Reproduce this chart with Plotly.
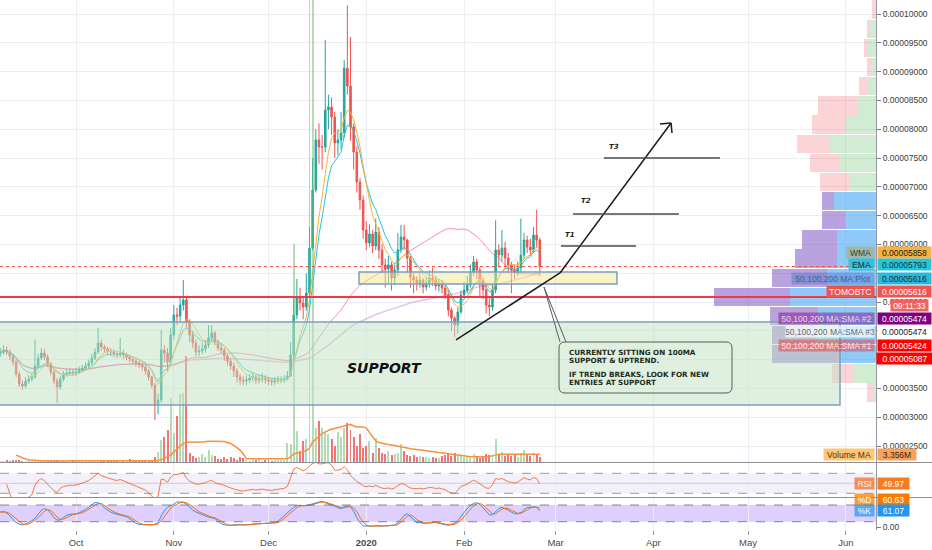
import numpy as np
import pandas as pd
import plotly.graph_objects as go

SAT = 1e-8
START = "2019-09-07"

CLOSE = [
4132,4167,4132,4063,3958,3750,3577,3542,3629,3663,
3698,3889,4028,4115,4045,3924,3785,3629,3525,3663,
3733,3768,3785,3768,3785,3820,3854,3889,3941,4028,
4132,4289,4219,4184,4150,4132,4097,4080,4115,4080,
4045,4011,3976,3941,3906,3872,3802,3698,3560,3212,
3299,4167,4115,3958,4427,4775,4757,4948,5035,4653,
4427,4289,4132,4150,4184,4254,4375,4462,4306,4202,
4167,4063,3976,3889,3802,3698,3646,3629,3646,3681,
3698,3646,3663,3681,3646,3629,3612,3629,3646,3646,
3663,3716,4080,4775,5070,4983,4913,5156,5938,6945,
7813,7691,7691,8333,8386,8212,7761,7813,7934,9060,
8750,8040,7604,7083,6771,6250,6025,6181,5972,6216,
5903,5643,5573,5643,5417,5556,5903,6129,6077,5764,
5434,5382,5330,5382,5261,5330,5417,5382,5278,5313,
5243,5122,4861,4722,4601,4827,5122,5209,5296,5521,
5695,5556,5382,5209,4948,4913,5209,5903,5816,5938,
5764,5643,5556,5504,5591,5816,6077,5955,5903,6163,
6077,5616]

OPEN = [
4100,4132,4167,4132,4063,3958,3750,3577,3542,3629,
3663,3698,3889,4028,4115,4045,3924,3785,3629,3525,
3663,3733,3768,3785,3768,3785,3820,3854,3889,3941,
4028,4132,4289,4219,4184,4150,4132,4097,4080,4115,
4080,4045,4011,3976,3941,3906,3872,3802,3698,3560,
3212,3299,4167,4115,3958,4427,4775,4757,4948,5035,
4653,4427,4289,4132,4150,4184,4254,4375,4462,4306,
4202,4167,4063,3976,3889,3802,3698,3646,3629,3646,
3681,3698,3646,3663,3681,3646,3629,3612,3629,3646,
3646,3663,3716,4080,4775,5070,4983,4913,5156,5938,
6945,7813,7691,7691,8333,8386,8212,7761,7813,7934,
9060,8750,8040,7604,7083,6771,6250,6025,6181,5972,
6216,5903,5643,5573,5643,5417,5556,5903,6129,6077,
5764,5434,5382,5330,5382,5261,5330,5417,5382,5278,
5313,5243,5122,4861,4722,4601,4827,5122,5209,5296,
5521,5695,5556,5382,5209,4948,4913,5209,5903,5816,
5938,5764,5643,5556,5504,5591,5816,6077,5955,5903,
6163,6077]

HIGH = [
4200,4250,4230,4170,4100,3990,3800,3640,3700,3720,
3760,4350,4100,4200,4180,4090,3960,3820,3680,3720,
3800,3830,3850,3840,3850,3880,3910,3950,4000,4100,
4200,4550,4350,4260,4230,4200,4180,4150,4380,4170,
4120,4090,4060,4020,3990,3950,3910,3840,3720,3600,
3400,4514,4250,4200,4550,4950,4900,5100,5382,5100,
4700,4500,4350,4250,4300,4350,4600,4600,4500,4350,
4280,4200,4100,4020,3950,3850,3760,3720,3720,3750,
3780,3740,3740,3760,3730,3700,3680,3700,3720,3710,
3730,3800,4300,5100,5400,5250,5100,5500,6300,7500,
8000,8100,7900,9550,8600,8550,8300,8000,8300,9200,
10150,9600,8100,7700,7150,6850,6400,6350,6250,6450,
6300,6000,5750,5800,5700,5650,6200,6340,6340,6100,
5800,5500,5450,5500,5420,5450,5550,5600,5450,5400,
5380,5300,5200,4900,4750,4900,5200,5350,5450,5650,
5800,5750,5600,5420,5300,5100,5300,6420,6000,6250,
6050,5850,5700,5650,5700,6450,6200,6150,6100,6300,
6600,6120]

LOW = [
4050,4090,4080,4000,3900,3700,3520,3480,3500,3580,
3620,3670,3850,3990,3990,3870,3730,3580,3250,3480,
3620,3700,3720,3710,3720,3750,3790,3820,3850,3900,
3990,4100,4150,4120,4090,4060,4040,4020,4040,4010,
3990,3950,3920,3880,3850,3810,3740,3640,3500,2950,
3050,3250,3950,3800,3900,4350,4600,4650,4850,4550,
4300,4200,4050,4060,4100,4120,4200,4300,4250,4150,
4100,3980,3900,3820,3700,3600,3560,3550,3560,3600,
3620,3580,3590,3610,3580,3560,3550,3560,3580,3590,
3600,3640,3700,4000,4700,4850,4700,4850,5100,5900,
6900,7400,7300,7600,8000,7900,7500,7550,7650,7850,
8600,7800,7300,6900,6600,6100,5900,5950,5850,5900,
5750,5500,5250,5300,5200,5300,5450,5850,5900,5500,
5250,5150,5200,5250,5150,5200,5250,5280,5200,5180,
5150,5050,4750,4500,4390,4450,4800,5080,5150,5250,
5450,5400,5100,5050,4800,4750,4850,5150,5600,5700,
5600,5500,5150,5400,5450,5500,5750,5850,5800,5850,
5950,5450]

VOLUME_M = [
0.6,0.5,0.7,0.5,0.8,1.0,0.9,0.6,0.5,0.7,
0.6,0.5,0.4,0.6,0.5,0.5,0.4,0.6,0.7,0.5,
0.4,0.5,0.6,0.4,0.5,0.4,0.5,0.6,0.5,0.4,
0.5,0.7,0.5,0.4,0.5,0.6,0.4,0.5,0.6,0.5,
0.4,1.3,0.5,0.4,0.6,0.5,0.7,0.8,1.0,2.2,
4.4,9.6,10.9,14.0,28.0,12.6,20.0,29.5,30.0,46.0,
4.0,2.5,1.8,2.2,3.5,2.0,5.2,3.0,2.4,1.5,
1.3,2.0,1.2,2.2,1.8,1.0,2.0,1.6,1.0,0.6,
0.8,0.7,1.2,0.6,0.9,0.7,0.6,1.0,0.8,0.7,
0.9,8.3,8.0,95.0,13.5,5.0,9.0,10.0,210.0,210.0,
15.0,18.0,15.0,13.0,12.0,10.0,7.0,13.0,11.0,15.0,
17.0,14.0,11.0,7.0,12.0,6.0,7.0,9.0,4.0,10.5,
6.0,4.0,3.5,5.0,3.0,3.5,4.0,7.8,5.0,3.0,
2.5,3.0,2.2,2.6,2.0,2.3,1.8,2.1,1.6,1.9,
2.5,3.0,3.5,2.8,3.9,3.2,2.6,2.2,2.4,2.8,
3.3,2.2,1.8,2.6,3.5,2.9,2.4,10.0,3.1,4.5,
2.6,3.3,2.4,2.9,2.2,3.8,5.4,3.0,2.6,4.2,
3.6,2.0]

VOLUME_MA_M = [
None,None,None,None,None,3.0,2.4,1.7,1.3,1.0,
0.8,0.6,0.5,0.5,0.5,0.45,0.45,0.45,0.45,0.45,
0.45,0.45,0.5,0.5,0.5,0.5,0.5,0.5,0.5,0.5,
0.5,0.5,0.5,0.5,0.5,0.5,0.5,0.5,0.5,0.5,
0.5,0.55,0.55,0.55,0.55,0.55,0.55,0.55,0.6,0.6,
0.65,1.1,1.5,2.4,3.0,4.4,5.7,7.0,8.1,8.6,
8.7,8.7,8.7,8.7,8.7,9.0,9.0,9.0,9.0,9.0,
9.0,8.9,8.5,8.1,7.2,6.1,5.2,3.5,1.5,1.45,
1.45,1.45,1.45,1.45,1.45,1.45,1.45,1.45,1.45,1.45,
1.45,1.45,2.2,3.5,3.9,4.05,4.4,5.0,6.1,8.7,
10.0,11.3,12.4,13.1,13.7,14.4,14.6,15.0,15.5,15.9,
16.3,16.4,15.7,15.3,15.3,15.3,14.8,13.1,10.9,9.2,
8.5,8.1,7.8,7.6,7.4,7.2,7.0,6.8,6.5,6.1,
5.8,5.7,5.5,5.2,5.1,4.9,4.8,4.6,4.4,4.1,
3.9,3.7,3.5,3.3,3.1,2.8,2.6,2.6,2.5,2.4,
2.3,2.2,2.2,2.2,2.2,2.4,2.6,3.0,3.36,3.36,
3.36,3.36,3.36,3.36,3.36,3.36,3.36,3.36,3.36,3.36,
3.36,3.356]

# visible-range volume profile (rows, in satoshi; widths in px of the profile scale)
PROFILE_PRICE = [10076,9744,9411,9079,8747,8414,8082,7749,7417,7084,
                 6752,6419,6087,5755,5422,5090,4757,4425,4092,3760,3427]
PROFILE_UP = [1,6,8,5,9,19,31,46,36,26,42,31,39,39,49,86,58,60,36,23,3]
PROFILE_DOWN = [3,3,4,4,8,39,33,33,30,30,12,23,35,42,55,76,48,44,68,21,6]
PROFILE_VALUE_AREA = [0,0,0,0,0,0,0,0,0,0,1,1,1,1,1,1,1,1,1,0,0]

PRICE_TICKS = [2500,3000,3500,4000,4500,5000,5500,6000,6500,7000,7500,8000,8500,9000,9500,10000]
HIDDEN_TICKS = [4000, 4500, 5500]   # fully covered by the price-scale tags in the reference
MONTH_TICKS = ["2019-10-01","2019-11-01","2019-12-01","2020-01-01","2020-02-01",
               "2020-03-01","2020-04-01","2020-05-01","2020-06-01"]
MONTH_LABELS = ["Oct","Nov","Dec","<b>2020</b>","Feb","Mar","Apr","May","Jun"]

SUPPORT_ZONE = (3212, 4653)
ENTRY_ZONE = (5313, 5521)
KEY_LEVEL = 5087
LAST_PRICE = 5616
TARGETS = [("T1", 5972, "2020-03-02 16:48", "2020-03-26 12:00", "2020-03-05 14:00", 6163),
           ("T2", 6528, "2020-03-06 12:00", "2020-04-09 02:00", "2020-03-10 14:00", 6753),
           ("T3", 7500, "2020-03-16 07:00", "2020-04-22 02:00", "2020-03-19 12:00", 7691)]

n = len(CLOSE)
assert all(len(a) == n for a in (OPEN, HIGH, LOW, VOLUME_M, VOLUME_MA_M))
dates = pd.date_range(START, periods=n, freq="D")

c = pd.Series(CLOSE, dtype=float)
hi = pd.Series(HIGH, dtype=float)
lo = pd.Series(LOW, dtype=float)
sma50 = c.rolling(50, min_periods=1).mean()
sma100 = c.rolling(100, min_periods=1).mean()
ema = c.ewm(span=9, adjust=False).mean()
wts = np.arange(1, 10)
wma = c.rolling(9).apply(lambda a: np.dot(a, wts) / wts.sum(), raw=True)
d = c.diff()
ag = d.clip(lower=0).ewm(alpha=1/14, adjust=True).mean()
al = (-d).clip(lower=0).ewm(alpha=1/14, adjust=True).mean()
rsi = 100 - 100 / (1 + ag / al)
rsi.iloc[:2] = np.nan
hh = hi.rolling(14, min_periods=1).max()
ll = lo.rolling(14, min_periods=1).min()
raw = 100 * (c - ll) / (hh - ll)
stk = raw.rolling(3, min_periods=1).mean()
std = stk.rolling(3, min_periods=1).mean()

W, H = 932, 550
PW, PH = 876, 530
def px(x): return x / PW
def py(y): return (PH - y) / PH

FONT = "Liberation Sans"
fig = go.Figure()

up = [cl >= op for cl, op in zip(CLOSE, OPEN)]
fig.add_trace(go.Bar(x=dates, y=VOLUME_M, xaxis="x", yaxis="y2",
                     marker=dict(color=["rgba(102,187,106,0.5)" if u else "rgba(239,83,80,0.8)" for u in up],
                                 line=dict(width=0)),
                     width=0.62 * 86400000))
fig.add_trace(go.Scatter(x=dates, y=VOLUME_MA_M, xaxis="x", yaxis="y2", mode="lines",
                         line=dict(color="#f7913d", width=1.5)))
fig.add_trace(go.Candlestick(x=dates, open=np.array(OPEN) * SAT, high=np.array(HIGH) * SAT,
                             low=np.array(LOW) * SAT, close=c.values * SAT,
                             increasing=dict(line=dict(color="#26a69a", width=1), fillcolor="#26a69a"),
                             decreasing=dict(line=dict(color="#ef5350", width=1), fillcolor="#ef5350"),
                             whiskerwidth=0, xaxis="x", yaxis="y"))
for s, col, wd in [(sma100, "rgba(156,39,176,0.28)", 1.5), (sma50, "rgba(242,54,69,0.55)", 1),
                   (ema, "#26c6da", 1), (wma, "#f5b335", 1)]:
    fig.add_trace(go.Scatter(x=dates, y=s * SAT, mode="lines", line=dict(color=col, width=wd),
                             xaxis="x", yaxis="y"))

up_col = ["rgba(33,150,243,0.5)" if v else "rgba(76,175,80,0.25)" for v in PROFILE_VALUE_AREA]
dn_col = ["rgba(126,87,194,0.55)" if v else "rgba(242,54,69,0.22)" for v in PROFILE_VALUE_AREA]
prof_y = np.array(PROFILE_PRICE) * SAT
fig.add_trace(go.Bar(y=prof_y, x=PROFILE_UP, orientation="h", xaxis="x4", yaxis="y",
                     marker=dict(color=up_col, line=dict(width=0)), width=318 * SAT))
fig.add_trace(go.Bar(y=prof_y, x=PROFILE_DOWN, base=PROFILE_UP, orientation="h", xaxis="x4", yaxis="y",
                     marker=dict(color=dn_col, line=dict(width=0)), width=318 * SAT))

fig.add_trace(go.Scatter(x=dates, y=rsi, mode="lines", line=dict(color="#f0794a", width=1),
                         xaxis="x2", yaxis="y3"))
fig.add_trace(go.Scatter(x=dates, y=stk, mode="lines", line=dict(color="#2196f3", width=1),
                         xaxis="x3", yaxis="y4"))
fig.add_trace(go.Scatter(x=dates, y=std, mode="lines", line=dict(color="#ff6d00", width=1),
                         xaxis="x3", yaxis="y4"))

XR = ["2019-09-06 21:36", "2020-06-10 13:26"]
grid = "#eceef3"
xcommon = dict(type="date", range=XR, tickvals=MONTH_TICKS, ticktext=MONTH_LABELS,
               showgrid=True, gridcolor=grid, zeroline=False, showline=False)
ycommon = dict(side="right", zeroline=False, showline=True, linecolor="#9598a1", linewidth=1,
               tickfont=dict(family=FONT, size=8.5, color="#3b3b3b"))
tick_text = ["" if t in HIDDEN_TICKS else f"{t * SAT:.8f}" for t in PRICE_TICKS]
fig.update_layout(
    width=W, height=H, margin=dict(l=0, r=W - PW, t=0, b=H - PH, autoexpand=False),
    paper_bgcolor="white", plot_bgcolor="white", showlegend=False, bargap=0, barmode="overlay",
    xaxis=dict(xcommon, domain=[0, 1], anchor="y", showticklabels=False, rangeslider=dict(visible=False)),
    xaxis2=dict(xcommon, domain=[0, 1], anchor="y3", matches="x", showticklabels=False),
    xaxis3=dict(xcommon, domain=[0, 1], anchor="y4", matches="x", showticklabels=True,
                ticks="outside", ticklen=4, tickcolor="#9598a1",
                tickfont=dict(family=FONT, size=9.5, color="#4a4a4a")),
    xaxis4=dict(overlaying="x", anchor="y", range=[PW, 0], visible=False),
    yaxis=dict(ycommon, domain=[py(462), 1], range=[2223 * SAT, 10243 * SAT],
               tickvals=[t * SAT for t in PRICE_TICKS], ticktext=tick_text,
               ticks="outside", ticklen=4, tickcolor="#787b86", showgrid=True, gridcolor=grid),
    yaxis2=dict(overlaying="y", range=[0, 201.3], visible=False),
    yaxis3=dict(ycommon, domain=[py(497), py(463)], range=[22.6, 90.6], showticklabels=False,
                showgrid=False),
    yaxis4=dict(ycommon, domain=[0, py(498)], range=[-9.8, 105.2], tickvals=[0], ticktext=["0.00"],
                ticks="outside", ticklen=4, tickcolor="#787b86", showgrid=False),
)

shapes = []
# indicator bands
shapes.append(dict(type="rect", xref="x2 domain", yref="y3", x0=0, x1=1, y0=30, y1=70,
                   fillcolor="rgba(126,87,194,0.09)", line=dict(width=0), layer="below"))
for lv in (30, 70):
    shapes.append(dict(type="line", xref="x2 domain", yref="y3", x0=0, x1=1, y0=lv, y1=lv,
                       line=dict(color="rgba(120,123,134,0.75)", width=1, dash="dash")))
shapes.append(dict(type="line", xref="x2 domain", yref="y3", x0=0, x1=1, y0=50, y1=50,
                   line=dict(color="rgba(120,123,134,0.3)", width=1)))
shapes.append(dict(type="rect", xref="x3 domain", yref="y4", x0=0, x1=1, y0=20, y1=80,
                   fillcolor="rgba(156,106,245,0.32)", line=dict(width=0), layer="below"))
for lv in (20, 80):
    shapes.append(dict(type="line", xref="x3 domain", yref="y4", x0=0, x1=1, y0=lv, y1=lv,
                       line=dict(color="rgba(110,100,130,0.8)", width=1, dash="dash")))
# pane separators
for yy in (462.5, 497.5):
    shapes.append(dict(type="line", xref="paper", yref="paper", x0=0, x1=W / PW, y0=py(yy), y1=py(yy),
                       line=dict(color="#8a8d96", width=1)))
# zones
shapes.append(dict(type="rect", xref="x", yref="y", x0="2019-09-01", x1="2020-05-30 03:36",
                   y0=SUPPORT_ZONE[0] * SAT, y1=SUPPORT_ZONE[1] * SAT,
                   fillcolor="rgba(191,225,193,0.5)", line=dict(color="#7f9dc0", width=1.5), layer="above"))
shapes.append(dict(type="rect", xref="x", yref="y", x0="2019-12-29 16:48", x1="2020-03-20 11:00",
                   y0=ENTRY_ZONE[0] * SAT, y1=ENTRY_ZONE[1] * SAT,
                   fillcolor="rgba(247,231,145,0.5)", line=dict(color="#7f9dc0", width=1.5), layer="above"))
shapes.append(dict(type="line", xref="paper", yref="y", x0=0, x1=1, y0=KEY_LEVEL * SAT, y1=KEY_LEVEL * SAT,
                   line=dict(color="#f23645", width=2), layer="above"))
shapes.append(dict(type="line", xref="paper", yref="y", x0=0, x1=1, y0=LAST_PRICE * SAT, y1=LAST_PRICE * SAT,
                   line=dict(color="#ef5350", width=1, dash="dot"), layer="above"))
# trend + projection
blk = dict(color="#1a1a1a", width=1.5)
shapes.append(dict(type="line", xref="x", yref="y", x0="2020-01-29 10:30", y0=4341 * SAT,
                   x1="2020-03-02 09:36", y1=5504 * SAT, line=blk))
shapes.append(dict(type="line", xref="x", yref="y", x0="2020-03-02 09:36", y0=5504 * SAT,
                   x1="2020-04-06 14:24", y1=8108 * SAT, line=blk))
shapes.append(dict(type="line", xref="x", yref="y", x0="2020-04-06 14:24", y0=8108 * SAT,
                   x1="2020-04-03 02:24", y1=8090 * SAT, line=blk))
shapes.append(dict(type="line", xref="x", yref="y", x0="2020-04-06 14:24", y0=8108 * SAT,
                   x1="2020-04-06 21:36", y1=7934 * SAT, line=blk))
for name, lvl, xa, xb, lx, ly in TARGETS:
    shapes.append(dict(type="line", xref="x", yref="y", x0=xa, x1=xb, y0=lvl * SAT, y1=lvl * SAT,
                       line=dict(color="#4a4a4a", width=1.5)))
# callout bubble (drawing, pixel placed)
x0, x1, y0, y1, r = 559, 732, 342, 393, 6
def P(a, b): return f"{px(a):.5f},{py(b):.5f}"
path = (f"M {P(x0 + r, y0)} L {P(x1 - r, y0)} Q {P(x1, y0)} {P(x1, y0 + r)} L {P(x1, y1 - r)} "
        f"Q {P(x1, y1)} {P(x1 - r, y1)} L {P(x0 + r, y1)} Q {P(x0, y1)} {P(x0, y1 - r)} "
        f"L {P(x0, y0 + r)} Q {P(x0, y0)} {P(x0 + r, y0)} Z")
shapes.append(dict(type="path", xref="paper", yref="paper", path=path,
                   line=dict(color="#55605a", width=1), fillcolor="rgba(0,0,0,0)"))
shapes.append(dict(type="path", xref="paper", yref="paper",
                   path=f"M {P(560, 342)} L {P(544, 287)} L {P(566, 342)}",
                   line=dict(color="#55605a", width=1)))
fig.update_layout(shapes=shapes)

ann = []
ann.append(dict(x="2020-01-06 21:00", y=3855 * SAT, xref="x", yref="y", text="<b><i>SUPPORT</i></b>",
                showarrow=False, font=dict(family="DejaVu Sans", size=14, color="#111")))
for name, lvl, xa, xb, lx, ly in TARGETS:
    ann.append(dict(x=lx, y=ly * SAT, xref="x", yref="y", text=f"<b><i>{name}</i></b>", showarrow=False,
                    font=dict(family="DejaVu Sans", size=7, color="#222")))
for txt, yy in [("CURRENTLY SITTING ON 100MA", 352.5), ("SUPPORT & UPTREND.", 360.5),
                ("IF TREND BREAKS, LOOK FOR NEW", 374.5), ("ENTRIES AT SUPPORT", 382.5)]:
    ann.append(dict(x=px(566.5), y=py(yy), xref="paper", yref="paper", xanchor="left", yanchor="middle",
                    text=f"<b>{txt}</b>", showarrow=False,
                    font=dict(family="DejaVu Sans", size=7.2, color="#1d2b1d")))

def tag(yc, value, vbg, vfg, name=None, nleft=None, nbg=None, nfg=None, vx0=877, vw=53):
    if name:
        ann.append(dict(x=px(875), y=py(yc), xref="paper", yref="paper", xanchor="right", yanchor="middle",
                        text=name, showarrow=False, bgcolor=nbg, borderpad=0, width=875 - nleft, height=11,
                        align="center", font=dict(family=FONT, size=8.5, color=nfg)))
    ann.append(dict(x=px(vx0), y=py(yc), xref="paper", yref="paper", xanchor="left", yanchor="middle",
                    text=value, showarrow=False, bgcolor=vbg, borderpad=0, width=vw, height=11,
                    align="center", font=dict(family=FONT, size=8.5, color=vfg)))

tag(252.5, "0.00005858", "#f6b23c", "#1a1a1a", "WMA", 848, "rgba(170,170,110,0.6)", "#3a3a2a")
tag(264.5, "0.00005793", "#26c6da", "#12303a", "EMA", 850, "rgba(0,188,212,0.65)", "#12303a")
tag(278, "0.00005616", "#2cb8dc", "#12303a", "50,100,200 MA:Plot", 793, "rgba(70,110,200,0.4)", "#4a5e8e")
tag(291.5, "0.00005616", "#ef5350", "white", "TOMOBTC", 828, "#ef5350", "white")
tag(305, "09:11:33", "#f06262", "white", vx0=890, vw=37)
tag(318.5, "0.00005474", "#800080", "white", "50,100,200 MA:SMA #2", 780, "rgba(128,0,128,0.45)", "#ead9f2")
tag(331.5, "0.00005474", "white", "#1a1a1a", "50,100,200 MA:SMA #3", 787, "rgba(255,255,255,0.7)", "#6b6b6b")
tag(345, "0.00005424", "#ff0000", "white", "50,100,200 MA:SMA #1", 780, "rgba(255,0,0,0.35)", "#ffe0e0")
tag(358, "0.00005087", "#ff0000", "white", vx0=876, vw=56)
tag(454, "3.356M", "#f7a35c", "#3a2410", "Volume MA", 825, "rgba(255,152,0,0.55)", "#4a2e10", vw=38)
tag(483.5, "49.97", "#f57c20", "white", "RSI", 856, "rgba(245,110,40,0.75)", "#fff1e6", vw=31)
tag(499, "60.63", "#f57c00", "white", "%D", 856, "rgba(245,124,0,0.75)", "white", vw=31)
tag(510, "61.07", "#2196f3", "white", "%K", 856, "rgba(33,150,243,0.7)", "white", vw=31)
fig.update_layout(annotations=ann)

fig.write_html("out.html", config={"displayModeBar": False},
               post_script="document.body.style.margin='0';document.body.style.overflow='hidden';")
